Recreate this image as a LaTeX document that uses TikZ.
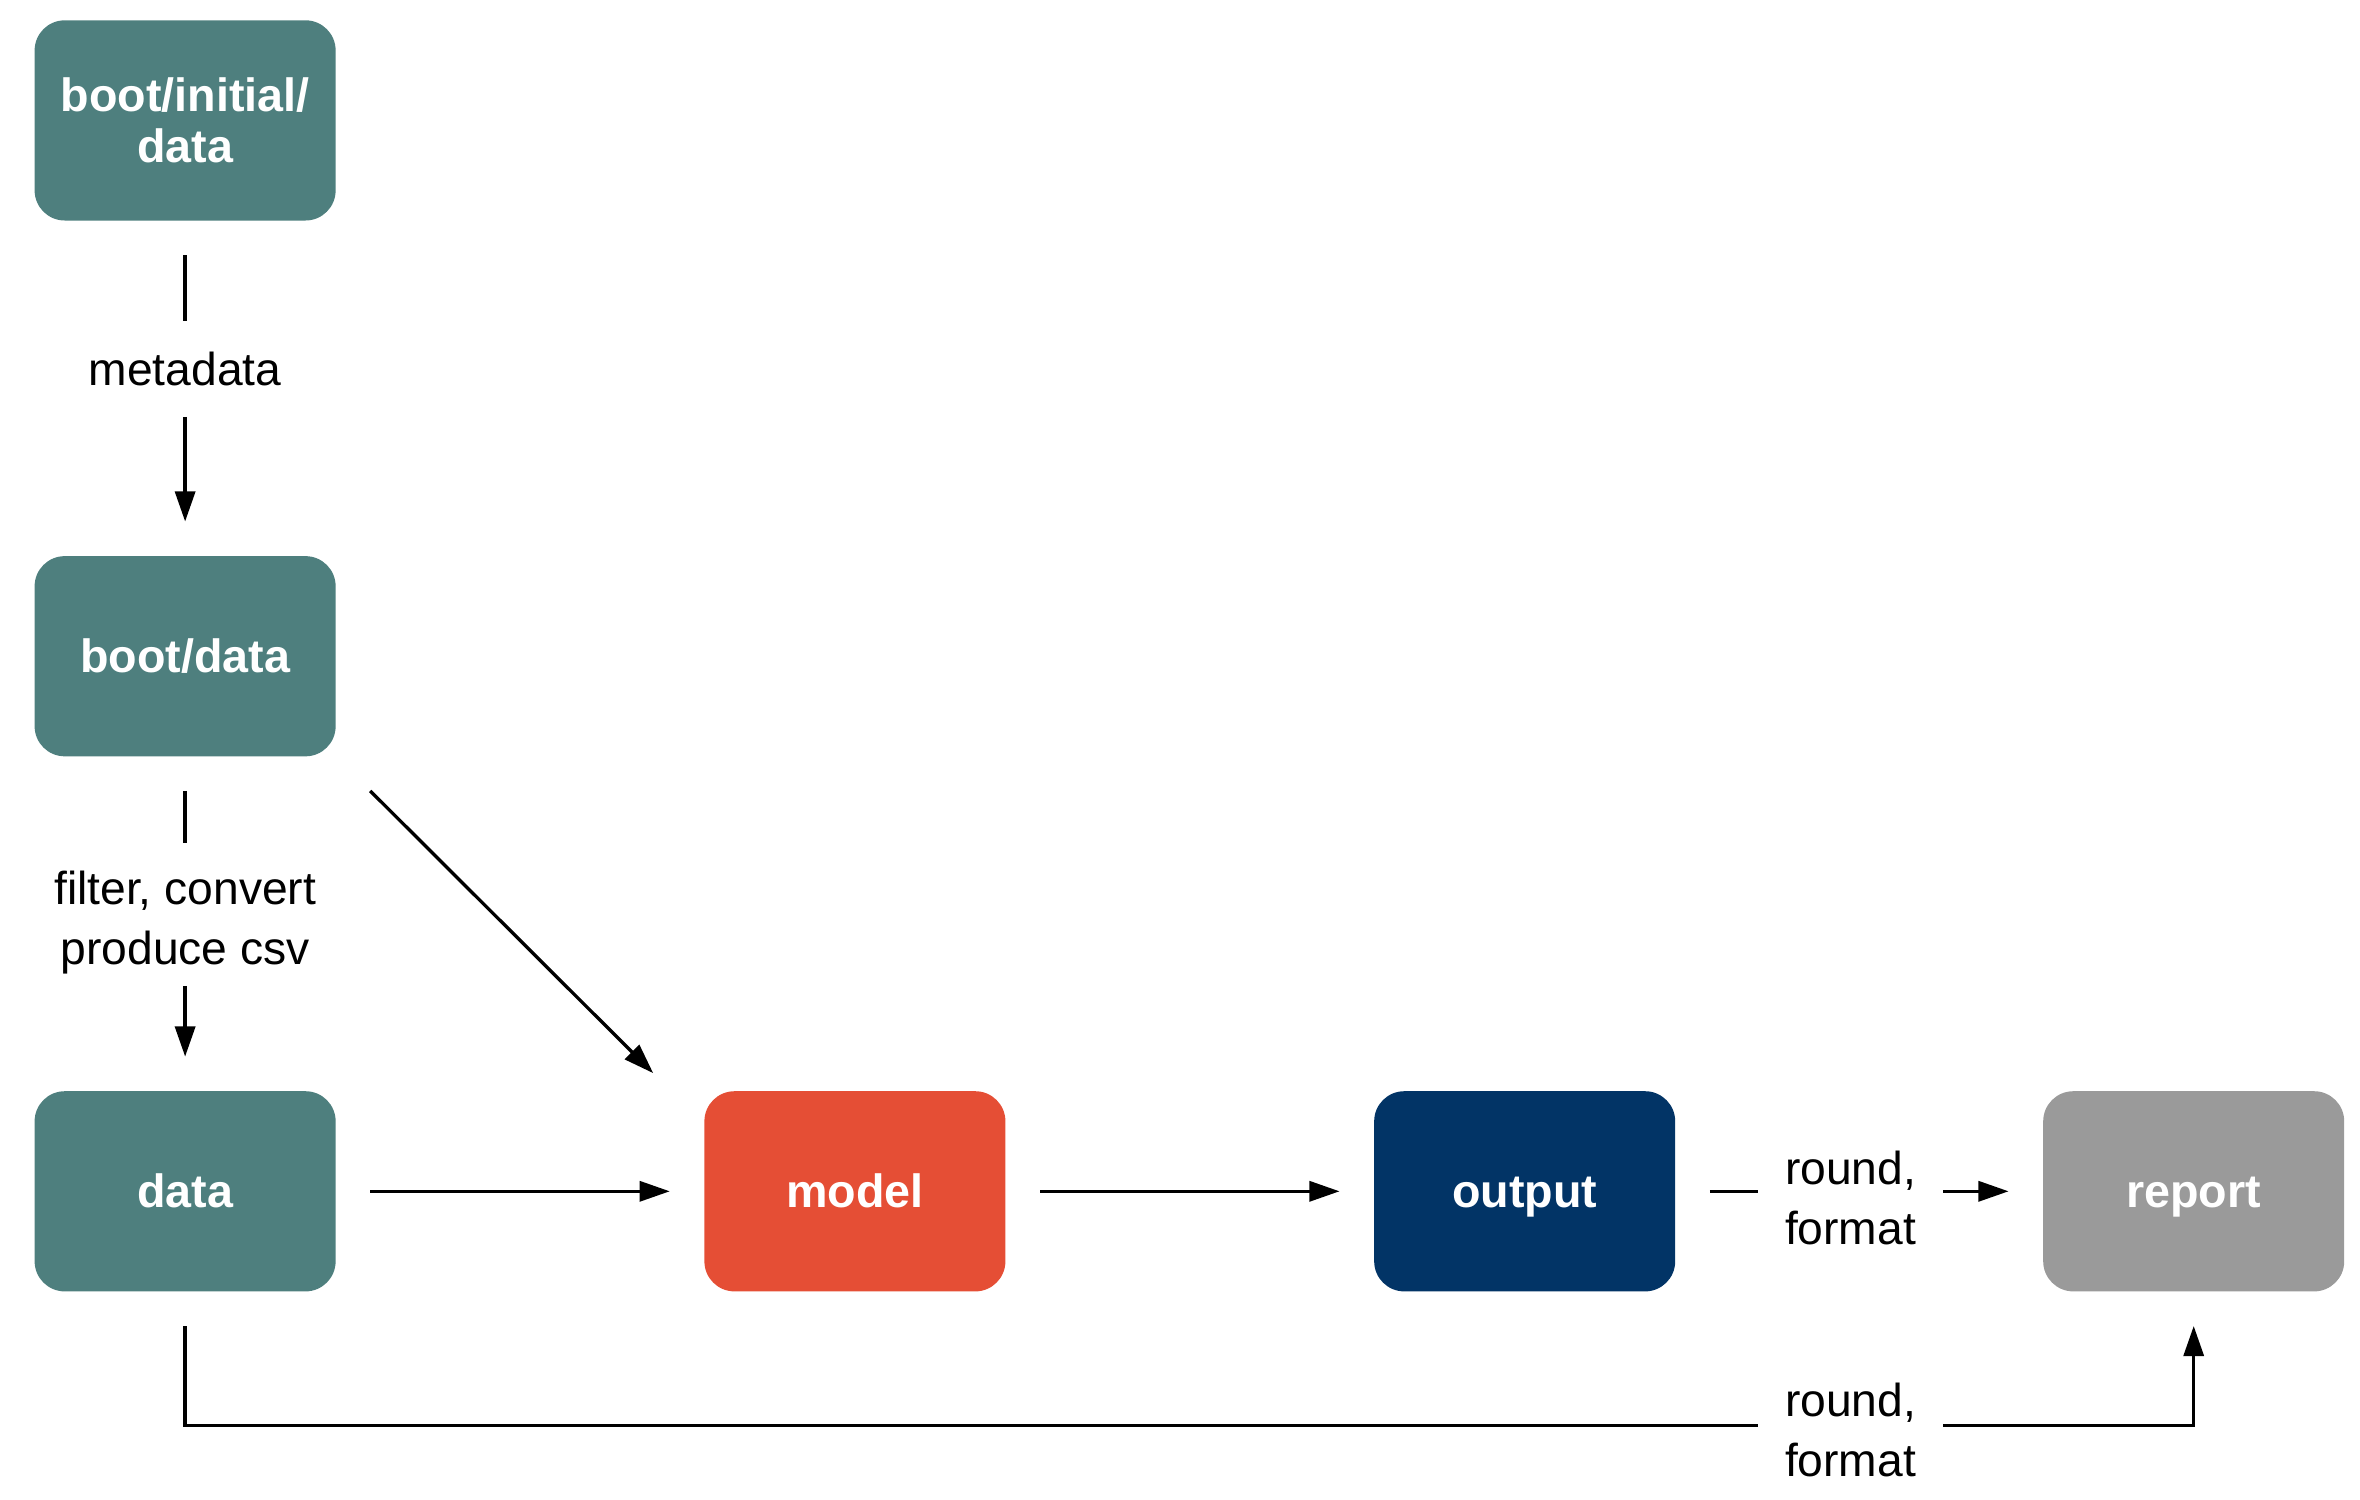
\documentclass[tikz,border=0pt]{standalone}
\usepackage{fontspec}
\setmainfont{Liberation Sans}
\usetikzlibrary{arrows.meta}
\definecolor{cTeal}{HTML}{4E7F7E}
\definecolor{cRed}{HTML}{E54E35}
\definecolor{cNavy}{HTML}{023466}
\definecolor{cGray}{HTML}{9A9A9A}
\begin{document}
\begin{tikzpicture}[x=1pt,y=-1pt,
  box/.style={rounded corners=20pt, minimum width=200pt, minimum height=133pt,
    inner sep=0pt, outer sep=23pt, text=white, align=center,
    font=\fontsize{31}{34}\selectfont\bfseries},
  onebox/.style={box, text height=22.5pt, text depth=0.5pt},
  lbl/.style={inner sep=0pt, outer sep=0pt, align=center, anchor=base,
    font=\fontsize{30.7}{40}\selectfont},
  conn/.style={line width=2.2pt, draw=black},
  arr/.style={conn, -{Triangle[length=20pt,width=13.3pt]}}]
\path[use as bounding box] (0,0) rectangle (1568,996.6);
% boxes
\node[box, fill=cTeal] (init) at (123,80) {boot/initial/\\data};
\node[onebox, fill=cTeal] (boot) at (123,436) {boot/data};
\node[onebox, fill=cTeal] (data) at (123,791.5) {data};
\node[onebox, fill=cRed] (model) at (568,791.5) {model};
\node[onebox, fill=cNavy] (output) at (1013,791.5) {output};
\node[onebox, fill=cGray] (report) at (1457.5,791.5) {report};
% labels (base = baseline of last line)
\node[lbl] (lmeta) at (123,256) {metadata};
\node[lbl] (lfilter) at (123,641) {filter, convert\\produce csv};
\node[lbl] (lround) at (1229.5,827) {round,\\format};
\node[lbl] (lround2) at (1229.5,981) {round,\\format};
% connector end points beside labels
\coordinate (m1) at (123,213);
\coordinate (m2) at (123,277);
\coordinate (f1) at (123,560);
\coordinate (f2) at (123,655);
\coordinate (r1) at (1168,791.5);
\coordinate (r2) at (1291,791.5);
\coordinate (b0) at (123,947);
\coordinate (b1) at (1168,947);
\coordinate (b2) at (1291,947);
\coordinate (mdiag) at ([shift={(-11,11)}]model.north west);
% connectors
\draw[conn] (init.south) -- (m1);
\draw[arr] (m2) -- (boot.north);
\draw[conn] (boot.south) -- (f1);
\draw[arr] (f2) -- (data.north);
\draw[arr] (boot.south east) -- (mdiag);
\draw[arr] (data.east) -- (model.west);
\draw[arr] (model.east) -- (output.west);
\draw[conn] (output.east) -- (r1);
\draw[arr] (r2) -- (report.west);
\draw[conn] (data.south) -- (b0) -- (b1);
\draw[arr] (b2) -| (report.south);
\end{tikzpicture}
\end{document}
